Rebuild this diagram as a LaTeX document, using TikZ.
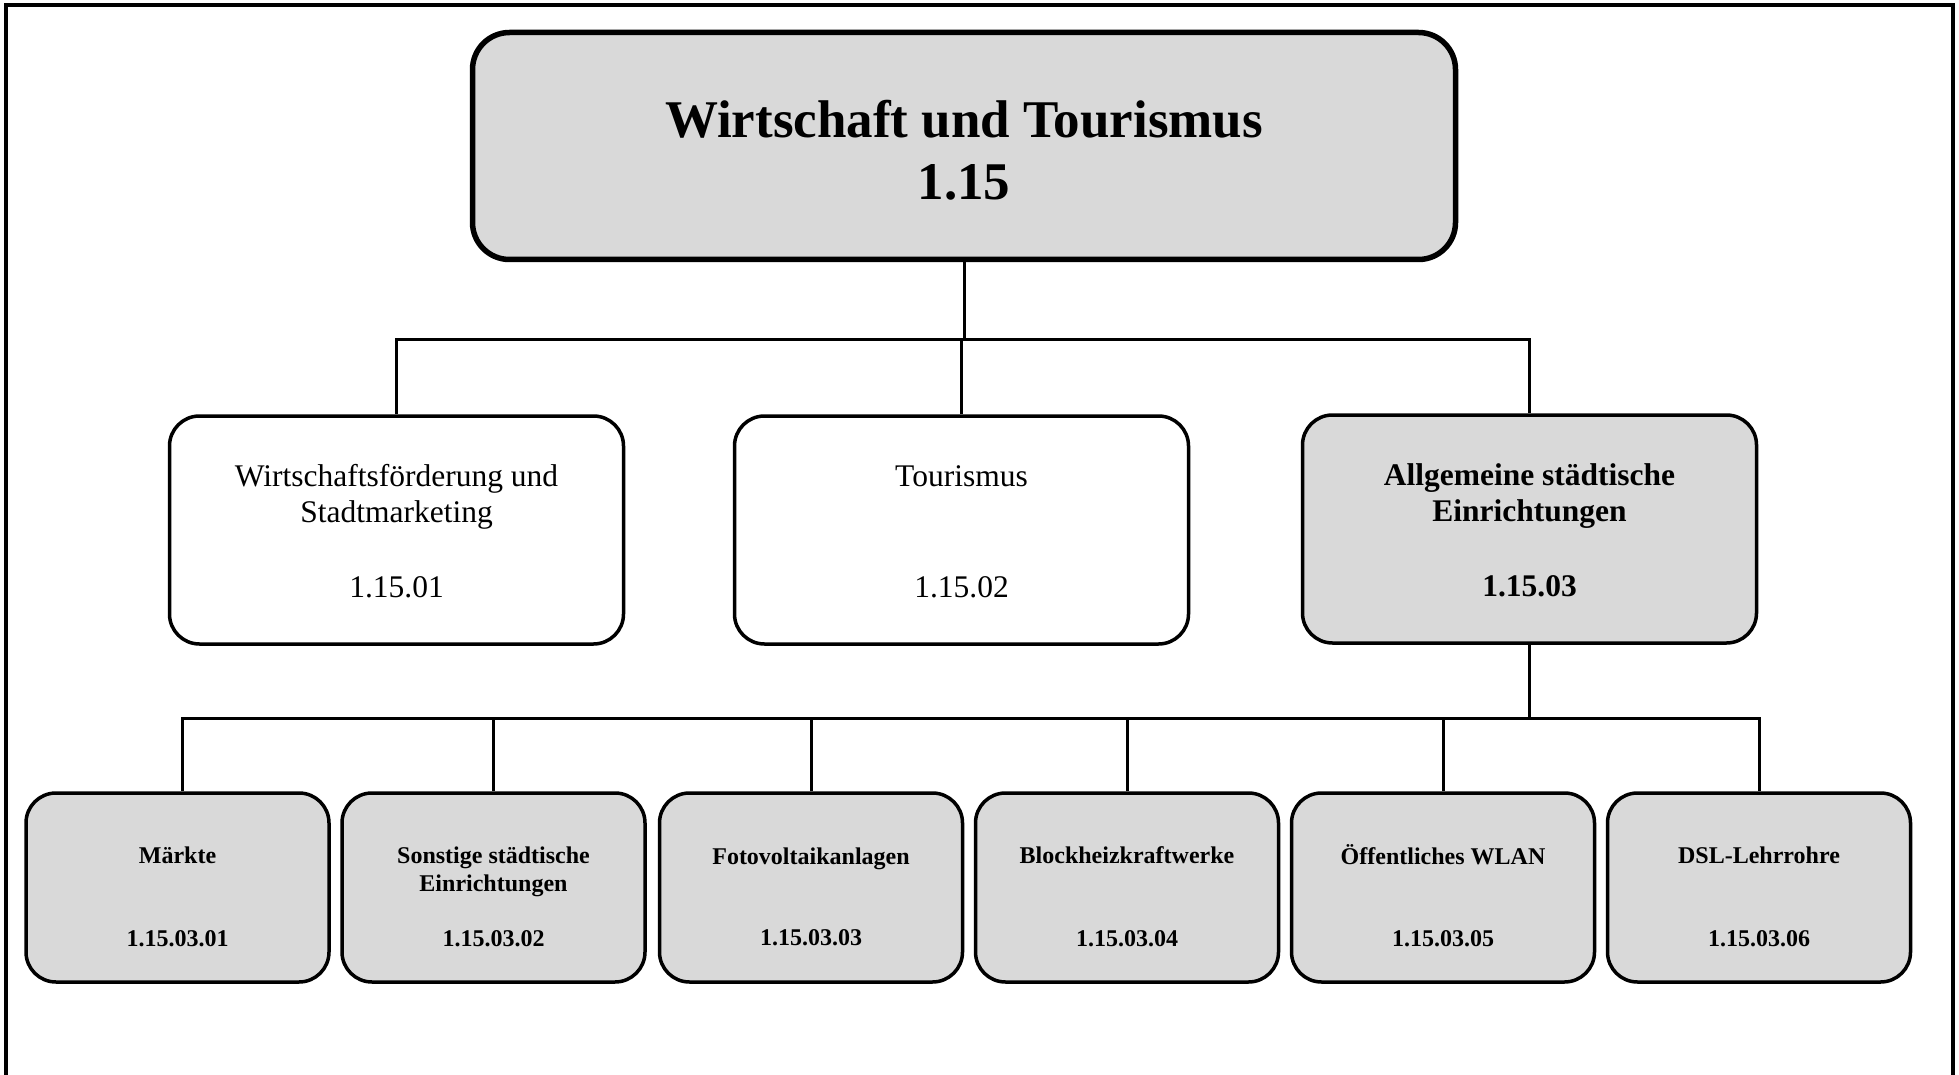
\documentclass[tikz,border=0pt]{standalone}
\usepackage{fontspec}
\setmainfont{Liberation Serif}
\definecolor{boxgray}{RGB}{217,217,217}
\begin{document}
\begin{tikzpicture}[x=1pt,y=-1pt,
  frameline/.style={line width=4pt},
  topbox/.style={draw, line width=5.5pt, rounded corners=37pt, fill=boxgray, minimum width=983pt, minimum height=227pt, inner sep=0pt},
  midbox/.style={draw, line width=3.5pt, rounded corners=30pt, minimum width=454pt, minimum height=228pt, inner sep=0pt},
  midgray/.style={midbox, fill=boxgray},
  lowbox/.style={draw, line width=3.5pt, rounded corners=30pt, fill=boxgray, minimum width=303pt, minimum height=189pt, inner sep=0pt},
  conn/.style={line width=3pt},
  toptext/.style={font=\bfseries\fontsize{53}{62}\selectfont, align=center, inner sep=0pt},
  midtext/.style={font=\fontsize{31.5}{36}\selectfont, align=center, inner sep=0pt},
  midbold/.style={font=\bfseries\fontsize{31.5}{36}\selectfont, align=center, inner sep=0pt},
  lowtext/.style={font=\bfseries\fontsize{24}{27.5}\selectfont, align=center, inner sep=0pt}
]
\useasboundingbox (0,0) rectangle (1959,1075);
\draw[frameline] (6,1077) -- (6,5) -- (1953,5) -- (1953,1077);

% boxes
\node[topbox] (top) at (964,146) {};
\node[midbox] (m1) at (396.5,530) {};
\node[midbox] (m2) at (961.5,530) {};
\node[midgray] (m3) at (1529.5,529) {};
\node[lowbox] (l1) at (177.5,887.5) {};
\node[lowbox] (l2) at (493.5,887.5) {};
\node[lowbox] (l3) at (811,887.5) {};
\node[lowbox] (l4) at (1127,887.5) {};
\node[lowbox] (l5) at (1443,887.5) {};
\node[lowbox] (l6) at (1759,887.5) {};

% texts
\node[toptext] (t0) at (964,150) {Wirtschaft und Tourismus\\1.15};
\node[midtext] (t1) at (396.5,497) {Wirtschaftsförderung und\\Stadtmarketing};
\node[midtext] (n1) at (396.5,587) {1.15.01};
\node[midtext] (t2) at (961.5,476) {Tourismus};
\node[midtext] (n2) at (961.5,587) {1.15.02};
\node[midbold] (t3) at (1529.5,496) {Allgemeine städtische\\Einrichtungen};
\node[midbold] (n3) at (1529.5,586) {1.15.03};

\node[lowtext] (s1) at (177.5,855) {Märkte};
\node[lowtext] (s2) at (493.5,872) {Sonstige städtische\\Einrichtungen};
\node[lowtext] (s3) at (811,858.5) {Fotovoltaikanlagen};
\node[lowtext] (s4) at (1127,855) {Blockheizkraftwerke};
\node[lowtext] (s5) at (1443,855) {Öffentliches WLAN};
\node[lowtext] (s6) at (1759,855) {DSL-Lehrrohre};
\node[lowtext] (k1) at (177.5,939) {1.15.03.01};
\node[lowtext] (k2) at (493.5,939) {1.15.03.02};
\node[lowtext] (k3) at (811,938) {1.15.03.03};
\node[lowtext] (k4) at (1127,939) {1.15.03.04};
\node[lowtext] (k5) at (1443,939) {1.15.03.05};
\node[lowtext] (k6) at (1759,939) {1.15.03.06};

% connectors
\coordinate (bus1) at (0,339);
\coordinate (bus2) at (0,718);
\coordinate (d1) at ([xshift=4.5pt]l1.north);
\draw[conn] (top.south) -- (top.south |- bus1);
\draw[conn] (m1.north) -- (m1.north |- bus1) -- (m3.north |- bus1) -- (m3.north);
\draw[conn] (m2.north) -- (m2.north |- bus1);
\draw[conn] (m3.south) -- (m3.south |- bus2);
\draw[conn] (d1) -- (d1 |- bus2) -- (l6.north |- bus2) -- (l6.north);
\foreach \i in {2,3,4,5}{
  \draw[conn] (l\i.north) -- (l\i.north |- bus2);
}
\end{tikzpicture}
\end{document}
